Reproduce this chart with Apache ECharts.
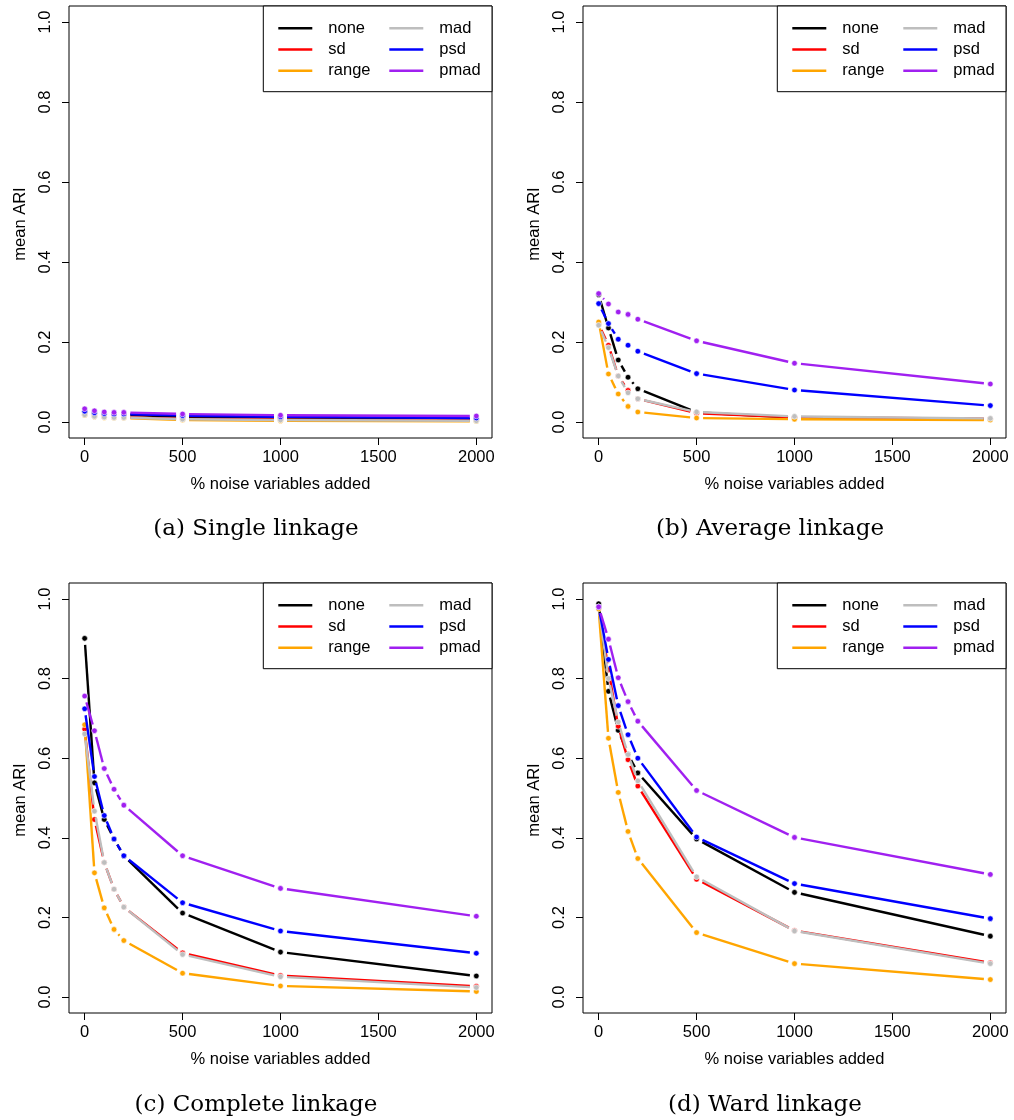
<!DOCTYPE html>
<html><head><meta charset="utf-8">
<script src="https://cdn.jsdelivr.net/npm/echarts@6/dist/echarts.min.js"></script>
<style>html,body{margin:0;padding:0;background:#fff}#c{width:1014px;height:1120px}</style>
</head><body><div id="c"></div>
<script>
// ---------------- data ----------------
const noisePct = [0, 50, 100, 150, 200, 500, 1000, 2000];
const methods = ['none', 'sd', 'range', 'mad', 'psd', 'pmad'];
const methodColors = ['#000000', '#FF0000', '#FFA500', '#BEBEBE', '#0000FF', '#A020F0'];
const xTicks = [0, 500, 1000, 1500, 2000];
const yTicks = [0, 0.2, 0.4, 0.6, 0.8, 1.0];
const captions = ['(a) Single linkage', '(b) Average linkage', '(c) Complete linkage', '(d) Ward linkage'];

// (a) single linkage
const singleNone  = [0.025, 0.021, 0.019, 0.018, 0.018, 0.013, 0.010, 0.007];
const singleSd    = [0.019, 0.015, 0.013, 0.012, 0.012, 0.008, 0.006, 0.004];
const singleRange = [0.017, 0.013, 0.011, 0.010, 0.010, 0.005, 0.003, 0.002];
const singleMad   = [0.018, 0.014, 0.012, 0.011, 0.011, 0.007, 0.005, 0.003];
const singlePsd   = [0.027, 0.023, 0.021, 0.020, 0.020, 0.016, 0.013, 0.010];
const singlePmad  = [0.033, 0.028, 0.025, 0.024, 0.024, 0.020, 0.017, 0.015];
// (b) average linkage
const averageNone  = [0.318, 0.235, 0.155, 0.112, 0.083, 0.024, 0.011, 0.007];
const averageSd    = [0.245, 0.192, 0.115, 0.079, 0.058, 0.022, 0.012, 0.008];
const averageRange = [0.250, 0.120, 0.070, 0.039, 0.025, 0.010, 0.007, 0.005];
const averageMad   = [0.242, 0.186, 0.115, 0.073, 0.058, 0.025, 0.014, 0.009];
const averagePsd   = [0.296, 0.246, 0.207, 0.192, 0.177, 0.121, 0.080, 0.041];
const averagePmad  = [0.321, 0.295, 0.275, 0.269, 0.257, 0.203, 0.147, 0.095];
// (c) complete linkage
const completeNone  = [0.901, 0.538, 0.446, 0.397, 0.355, 0.211, 0.113, 0.053];
const completeSd    = [0.673, 0.446, 0.338, 0.271, 0.226, 0.111, 0.054, 0.027];
const completeRange = [0.684, 0.312, 0.224, 0.170, 0.142, 0.060, 0.028, 0.014];
const completeMad   = [0.661, 0.467, 0.338, 0.271, 0.226, 0.107, 0.051, 0.024];
const completePsd   = [0.724, 0.554, 0.456, 0.397, 0.355, 0.237, 0.166, 0.110];
const completePmad  = [0.756, 0.669, 0.574, 0.522, 0.482, 0.355, 0.273, 0.203];
// (d) Ward linkage
const wardNone  = [0.988, 0.768, 0.670, 0.610, 0.563, 0.397, 0.263, 0.153];
const wardSd    = [0.980, 0.822, 0.680, 0.596, 0.530, 0.296, 0.167, 0.086];
const wardRange = [0.975, 0.650, 0.514, 0.416, 0.348, 0.162, 0.084, 0.044];
const wardMad   = [0.980, 0.800, 0.691, 0.609, 0.543, 0.302, 0.166, 0.084];
const wardPsd   = [0.980, 0.848, 0.732, 0.659, 0.600, 0.402, 0.285, 0.197];
const wardPmad  = [0.980, 0.899, 0.802, 0.742, 0.693, 0.519, 0.401, 0.308];

const panelValues = [
  [singleNone, singleSd, singleRange, singleMad, singlePsd, singlePmad],
  [averageNone, averageSd, averageRange, averageMad, averagePsd, averagePmad],
  [completeNone, completeSd, completeRange, completeMad, completePsd, completePmad],
  [wardNone, wardSd, wardRange, wardMad, wardPsd, wardPmad]
];

// ---------------- layout ----------------
const FONT = 'Liberation Sans, Arial, sans-serif';
const FS = 16.5;
const panelLeft = [69, 583, 69, 583];
const panelTop = [6, 6, 583, 583];
const panelW = 423;
const panelH = [432, 432, 430, 430];
const captionX = [256, 770, 256, 765];
const captionY = [529, 529, 1105, 1105];
const GAP = 6.5;

const grids = [], xAxes = [], yAxes = [], series = [], legends = [], graphics = [];

function makeRender(color, ys) {
  return function (params, api) {
    const i = params.dataIndex;
    const p = api.coord([api.value(0), api.value(1)]);
    const children = [];
    if (i < noisePct.length - 1) {
      const q = api.coord([noisePct[i + 1], ys[i + 1]]);
      const dx = q[0] - p[0], dy = q[1] - p[1];
      const d = Math.hypot(dx, dy);
      if (d > 2 * GAP) {
        const ux = dx / d, uy = dy / d;
        children.push({
          type: 'line',
          shape: { x1: p[0] + ux * GAP, y1: p[1] + uy * GAP, x2: q[0] - ux * GAP, y2: q[1] - uy * GAP },
          style: { stroke: color, lineWidth: 2.4, lineCap: 'butt' }
        });
      }
    }
    children.push({
      type: 'circle',
      shape: { cx: p[0], cy: p[1], r: 2.8 },
      style: { fill: color, stroke: '#ffffff', lineWidth: 0.6 }
    });
    return { type: 'group', children: children };
  };
}

for (let k = 0; k < 4; k++) {
  grids.push({ left: panelLeft[k], top: panelTop[k], width: panelW, height: panelH[k],
    show: true, borderColor: '#000', borderWidth: 1, backgroundColor: 'transparent', containLabel: false });
  xAxes.push({
    type: 'value', gridIndex: k, min: -80, max: 2080, position: 'bottom',
    axisLine: { show: false, onZero: false },
    axisTick: { show: true, inside: false, length: 7, lineStyle: { color: '#000', width: 1 }, customValues: xTicks },
    axisLabel: { show: true, customValues: xTicks, margin: 11, color: '#000', fontFamily: FONT, fontSize: FS,
      formatter: v => String(v) },
    splitLine: { show: false },
    name: '% noise variables added', nameLocation: 'middle', nameGap: 46,
    nameTextStyle: { color: '#000', fontFamily: FONT, fontSize: FS, verticalAlign: 'middle' }
  });
  yAxes.push({
    type: 'value', gridIndex: k, min: -0.04, max: 1.04, position: 'left',
    axisLine: { show: false, onZero: false },
    axisTick: { show: true, inside: false, length: 7, lineStyle: { color: '#000', width: 1 }, customValues: yTicks },
    axisLabel: { show: true, customValues: yTicks, margin: 15, rotate: 90, color: '#000', fontFamily: FONT, fontSize: FS,
      formatter: v => v.toFixed(1) },
    splitLine: { show: false }
  });
  methods.forEach((m, j) => {
    const ys = panelValues[k][j];
    series.push({
      type: 'custom', name: m, xAxisIndex: k, yAxisIndex: k,
      itemStyle: { color: methodColors[j] },
      data: noisePct.map((x, i) => [x, ys[i]]),
      encode: { x: 0, y: 1 },
      renderItem: makeRender(methodColors[j], ys),
      z: 2 + j * 0.01,
      silent: true
    });
  });
  const rowTop = panelTop[k] + 22.3 - 10.6;
  const legendCommon = {
    orient: 'vertical', top: rowTop, padding: 0, itemGap: 0,
    itemWidth: 34, itemHeight: 2.5, icon: 'rect', selectedMode: false, z: 20,
    textStyle: { color: '#000', fontFamily: FONT, fontSize: FS, lineHeight: 21.2, padding: [0, 0, 0, 11] }
  };
  legends.push(Object.assign({}, legendCommon, { left: panelLeft[k] + 209.3,
    data: methods.slice(0, 3).map((m, j) => ({ name: m, itemStyle: { color: methodColors[j] } })) }));
  legends.push(Object.assign({}, legendCommon, { left: panelLeft[k] + 320.3,
    data: methods.slice(3).map((m, j) => ({ name: m, itemStyle: { color: methodColors[j + 3] } })) }));
  graphics.push({
    type: 'rect', z: 15,
    shape: { x: panelLeft[k] + 194.3, y: panelTop[k], width: panelW - 194.3, height: 85.7 },
    style: { fill: '#fff', stroke: '#000', lineWidth: 1 }
  });
  graphics.push({
    type: 'text', z: 15, x: panelLeft[k] - 48.5, y: panelTop[k] + panelH[k] / 2 + 2, rotation: Math.PI / 2,
    style: { text: 'mean ARI', fill: '#000', font: FS + 'px ' + FONT, textAlign: 'center', textVerticalAlign: 'middle' }
  });
  graphics.push({
    type: 'text', z: 15, x: captionX[k], y: captionY[k],
    style: { text: captions[k], fill: '#000', font: '23px DejaVu Serif, serif', textAlign: 'center', textVerticalAlign: 'middle' }
  });
}

const chart = echarts.init(document.getElementById('c'), null, { renderer: 'canvas' });
chart.setOption({
  animation: false,
  backgroundColor: '#fff',
  grid: grids, xAxis: xAxes, yAxis: yAxes, series: series, legend: legends, graphic: graphics
});
</script>
</body></html>
